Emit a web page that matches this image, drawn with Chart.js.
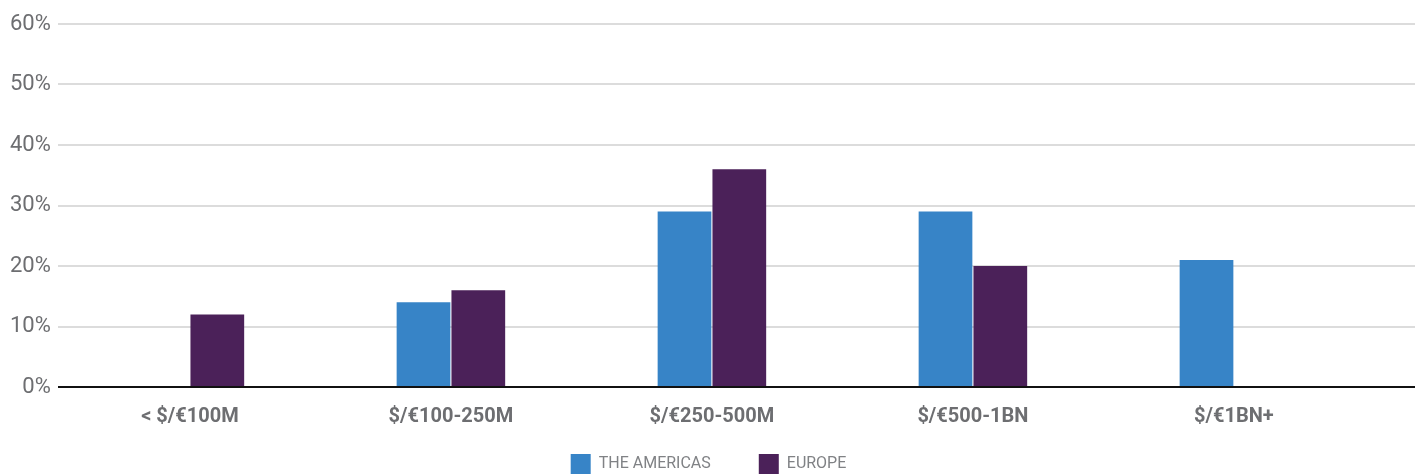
<!DOCTYPE html>
<html>
<head>
<meta charset="utf-8">
<script src="https://cdn.jsdelivr.net/npm/chart.js@4/dist/chart.umd.min.js"></script>
<style>
  html,body{margin:0;padding:0;background:#fff;}
  #wrap{width:1421px;height:474px;position:relative;}
</style>
</head>
<body>
<div id="wrap"><canvas id="dealChart"></canvas></div>
<script>
// ── data ──────────────────────────────────────────────
const SIZE_BANDS = ['< $/€100M', '$/€100-250M', '$/€250-500M', '$/€500-1BN', '$/€1BN+'];
const AMERICAS   = [null, 14, 29, 29, 21];
const EUROPE     = [12, 16, 36, 20, null];
const Y_TICKS    = [0, 10, 20, 30, 40, 50, 60];

const BLUE   = '#3784c7';
const PURPLE = '#4b2159';
const GREY   = '#6d6e71';
const FONT   = 'Roboto, "Liberation Sans", sans-serif';

// spacing between category centres; gridlines keep running past the last band
const CAT_STEP = 261;

const stretchX = {
  id:'stretchX',
  afterLayout(chart){
    const x = chart.scales.x;
    x._valueRange = x.width / CAT_STEP;
    x._startValue = -0.506;
  }
};

// legend row along the bottom edge, wider spacing than the built-in one allows
const bottomLegend = {
  id:'bottomLegend',
  afterDraw(chart){
    const ctx = chart.ctx;
    const sets = chart.data.datasets;
    const box = 20, gap = 8, spacing = 48;
    ctx.save();
    ctx.font = '16px ' + FONT;
    const widths = sets.map(d => box + gap + ctx.measureText(d.label).width);
    const total = widths.reduce((a,b)=>a+b, 0) + spacing*(sets.length-1);
    let x = (chart.width - total)/2 - 2;
    const y = chart.height - 20;
    ctx.textBaseline = 'middle';
    ctx.textAlign = 'left';
    sets.forEach((d,i) => {
      ctx.fillStyle = d.backgroundColor;
      ctx.fillRect(x, y, box, box);
      ctx.fillStyle = '#808285';
      ctx.fillText(d.label, x + box + gap, y + box/2);
      x += widths[i] + spacing;
    });
    ctx.restore();
  }
};

new Chart(document.getElementById('dealChart'), {
  type:'bar',
  plugins:[stretchX, bottomLegend],
  data:{
    labels:SIZE_BANDS,
    datasets:[
      {label:'THE AMERICAS', data:AMERICAS, backgroundColor:BLUE,
       barPercentage:0.98, categoryPercentage:0.42},
      {label:'EUROPE', data:EUROPE, backgroundColor:PURPLE,
       barPercentage:0.98, categoryPercentage:0.42}
    ]
  },
  options:{
    responsive:true, maintainAspectRatio:false, animation:false,
    layout:{padding:{top:24,right:6,left:3,bottom:27}},
    scales:{
      x:{
        grid:{display:false, drawTicks:false},
        border:{display:false},
        ticks:{color:GREY, padding:18, font:{family:FONT, size:20, weight:'bold'}}
      },
      y:{
        min:0, max:60,
        afterBuildTicks(s){ s.ticks = Y_TICKS.map(v=>({value:v})); },
        border:{display:false},
        grid:{
          drawTicks:false,
          lineWidth:2,
          color:c=>c.tick.value===0 ? '#111' : '#dcdcdc'
        },
        ticks:{color:GREY, padding:7, font:{family:FONT, size:22},
               callback:v=>v+'%'}
      }
    },
    plugins:{
      legend:{display:false},
      tooltip:{enabled:false}
    }
  }
});
</script>
</body>
</html>
